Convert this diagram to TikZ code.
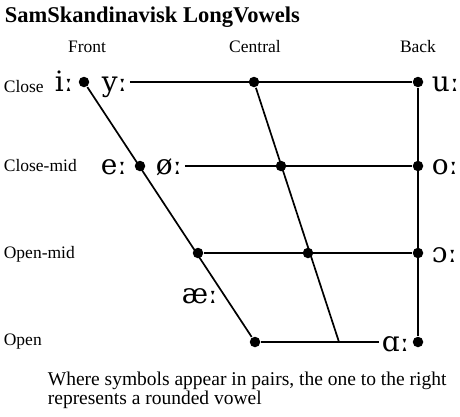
\documentclass[tikz,border=0pt]{standalone}
\usepackage{fontspec}
\setmainfont{Liberation Serif}
\newfontfamily\ipafont{DejaVu Serif}
\usetikzlibrary{positioning, calc}

\begin{document}
\begin{tikzpicture}[
    x=1pt, y=-1pt,
    line width=1.7pt,
    dot/.style={circle, fill, inner sep=0pt, minimum size=10.5pt},
    vowel/.style={anchor=base west, inner sep=0pt, font=\ipafont\fontsize{28}{28}\selectfont},
    rowlabel/.style={anchor=west, inner sep=0pt, font=\fontsize{17.5}{17.5}\selectfont},
    collabel/.style={inner sep=0pt, font=\fontsize{17.5}{17.5}\selectfont},
]
    \useasboundingbox (0,0) rectangle (460,416);

    % Title
    \node[anchor=base west, inner sep=0pt, font=\fontsize{22.5}{22.5}\selectfont\bfseries]
          (title) at (4,22) {SamSkandinavisk LongVowels};

    % Column labels
    \node[collabel] (front)   at (87,47)  {Front};
    \node[collabel] (central) at (255,47) {Central};
    \node[collabel] (back)    at (418,47) {Back};

    % Row labels
    \node[rowlabel] (close)    at (3,87)  {Close};
    \node[rowlabel] (closemid) at (3,166) {Close-mid};
    \node[rowlabel] (openmid)  at (3,254) {Open-mid};
    \node[rowlabel] (open)     at (3,342) {Open};

    % Dots
    \node[dot] (cf)  at (84,82)   {};
    \node[dot] (cc)  at (254,82)  {};
    \node[dot] (cb)  at (418,82)  {};
    \node[dot] (cmf) at (140,166) {};
    \node[dot] (cmc) at (281,166) {};
    \node[dot] (cmb) at (418,166) {};
    \node[dot] (omf) at (198,253) {};
    \node[dot] (omc) at (308,253) {};
    \node[dot] (omb) at (418,253) {};
    \node[dot] (of)  at (255,342) {};
    \node[dot] (ob)  at (418,342) {};
    \coordinate (oc) at (339,342);

    % Vowels
    \node[vowel] (i)  at (54,91)   {iː};
    \node[vowel] (y)  at (101,91)  {yː};
    \node[vowel] (u)  at (431,91)  {uː};
    \node[vowel] (e)  at (100,174) {eː};
    \node[vowel] (oe) at (155,174) {øː};
    \node[vowel] (o)  at (431,174) {oː};
    \node[vowel] (oo) at (431,262) {ɔː};
    \node[vowel] (ae) at (181,303) {æː};
    \node[vowel] (a)  at (381,351) {ɑː};

    % Lines
    \draw (cf) -- (of);
    \draw (cc) -- (oc);
    \draw (cb) -- (ob);
    \draw ([xshift=2pt]y.east |- cb) -- (cb);
    \draw ([xshift=2pt]oe.east |- cmb) -- (cmb);
    \draw (omf) -- (omb);
    \draw (of) -- ([xshift=-2pt]a.west |- of);

    % Note
    \node[anchor=base west, inner sep=0pt, align=left,
          font=\fontsize{19.5}{12.5}\selectfont] (note) at (47,404)
          {Where symbols appear in pairs, the one to the right\\represents a rounded vowel};
\end{tikzpicture}
\end{document}
